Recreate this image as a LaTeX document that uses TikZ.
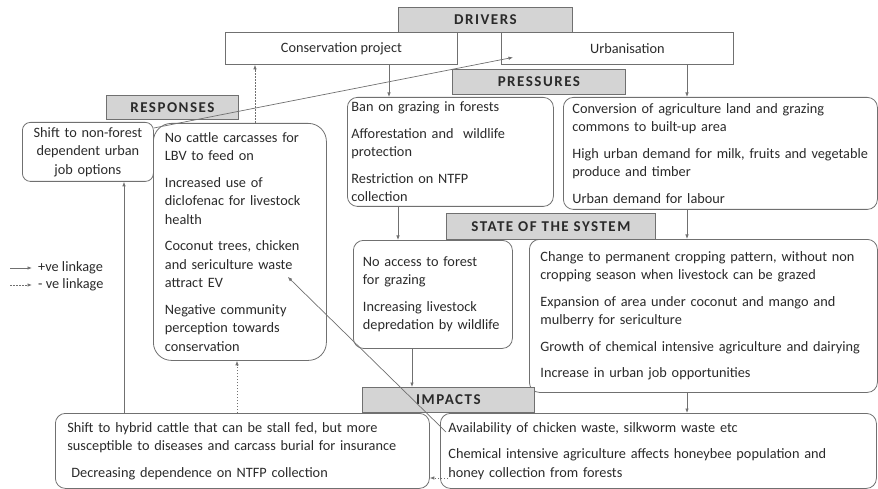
\documentclass[tikz,border=0pt]{standalone}
\usepackage{fontspec}
\setmainfont{Carlito}
\usetikzlibrary{arrows.meta}

\definecolor{linegrey}{HTML}{707070}
\definecolor{hdrgrey}{HTML}{D4D4D4}
\definecolor{txtgrey}{HTML}{2A2A2A}

\begin{document}
\begin{tikzpicture}[x=1pt,y=-1pt,
  every node/.style={text=txtgrey},
  hdr/.style={draw=linegrey,fill=hdrgrey,line width=0.8pt,font=\fontsize{15}{18}\selectfont\bfseries\addfontfeatures{LetterSpace=10},minimum height=25,inner sep=0pt,anchor=north west},
  dbox/.style={draw=linegrey,line width=0.8pt,font=\fontsize{14.3}{18.5}\selectfont,minimum height=32,inner sep=0pt,anchor=north west},
  rbox/.style={draw=linegrey,line width=0.8pt,rounded corners=10,align=left,font=\fontsize{14.3}{18.5}\selectfont,inner ysep=0pt,anchor=north west},
  poslink/.style={draw=linegrey,line width=0.7pt,-{Latex[length=4.5pt,width=3.5pt]}},
  neglink/.style={poslink,dash pattern=on 1.5pt off 1.5pt}]

\useasboundingbox (0,0) rectangle (878,489);

% drivers
\node[hdr,minimum width=174] (drivers) at (398,7) {DRIVERS};
\node[dbox,minimum width=232] (cons) at (225,32) {Conservation project};
\node[dbox,minimum width=232] (urban) at (501,32) {\hspace*{20pt}Urbanisation};

% pressures
\node[hdr,minimum width=173] (pressures) at (452,69) {PRESSURES};
\node[rbox,inner xsep=4,text width=198,minimum height=109] (ban) at (347,97)
  {Ban on grazing in forests\\[8pt]Afforestation and\ \ wildlife\\protection\\[8pt]Restriction on NTFP\\collection};
\node[rbox,inner xsep=9,text width=296,minimum height=112] (convert) at (563,97)
  {Conversion of agriculture land and grazing\\commons to built-up area\\[8pt]High urban demand for milk, fruits and vegetable\\produce and timber\\[8pt]Urban demand for labour};

% responses
\node[hdr,minimum width=132,minimum height=24] (responses) at (106,95) {RESPONSES};
\node[rbox,align=center,rounded corners=8,inner xsep=3,text width=125,minimum height=59] (urbanjob) at (22,122)
  {Shift to non-forest\\dependent urban\\job options};
\node[rbox,rounded corners=18,inner xsep=11.5,text width=150,minimum height=237] (carcass) at (153,123)
  {No cattle carcasses for\\LBV to feed on\\[8pt]Increased use of\\diclofenac for livestock\\health\\[8pt]Coconut trees, chicken\\and sericulture waste\\attract EV\\[8pt]Negative community\\perception towards\\conservation};

% state of the system
\node[hdr,minimum width=209,minimum height=26] (state) at (446,213) {STATE OF THE SYSTEM};
\node[rbox,inner xsep=9.5,text width=140,minimum height=108] (noaccess) at (353,240)
  {No access to forest\\for grazing\\[8pt]Increasing livestock\\depredation by wildlife};
\node[rbox,inner xsep=11,text width=326,minimum height=153] (cropping) at (529,239)
  {Change to permanent cropping pattern, without non\\cropping season when livestock can be grazed\\[8pt]Expansion of area under coconut and mango and\\mulberry for sericulture\\[8pt]Growth of chemical intensive agriculture and dairying\\[8pt]Increase in urban job opportunities};

% impacts
\node[hdr,minimum width=172] (impacts) at (362,387) {IMPACTS};
\node[rbox,inner xsep=12,text width=350,minimum height=75] (hybrid) at (55,413)
  {Shift to hybrid cattle that can be stall fed, but more\\susceptible to diseases and carcass burial for insurance\\[8pt]\hspace*{4pt}Decreasing dependence on NTFP collection};
\node[rbox,inner xsep=8,text width=420,minimum height=75] (waste) at (440,413)
  {Availability of chicken waste, silkworm waste etc\\[8pt]Chemical intensive agriculture affects honeybee population and\\honey collection from forests};

% legend
\coordinate (posfrom) at (10,268);
\coordinate (negfrom) at (10,285);
\node[anchor=west,inner xsep=6,font=\fontsize{14.3}{16}\selectfont] (poslabel) at (32,268) {+ve linkage};
\node[anchor=west,inner xsep=6,font=\fontsize{14.3}{16}\selectfont] (neglabel) at (32,285) {- ve linkage};
\draw[poslink] (posfrom) -- (poslabel.west);
\draw[neglink] (negfrom) -- (neglabel.west);

% links
\coordinate (colA) at (389,0);
\coordinate (colB) at (687,0);
\coordinate (colC) at (398,0);
\coordinate (colD) at (412,0);
\coordinate (colE) at (124,0);
\coordinate (colF) at (237,0);
\coordinate (colG) at (255,0);

\foreach \from/\to/\col in {cons/ban/colA, urban/convert/colB, ban/noaccess/colC, convert/cropping/colB, noaccess/impacts/colD, cropping/waste/colB}{
    \draw[poslink] (\from.south -| \col) -- (\to.north -| \col);
}

\draw[poslink] (hybrid.north -| colE) -- (urbanjob.south -| colE);
\draw[neglink] (hybrid.north -| colF) -- (carcass.south -| colF);
\draw[neglink] (carcass.north -| colG) -- (cons.south -| colG);
\draw[poslink] ([yshift=-6]urbanjob.north east) -- ([xshift=12,yshift=-9]urban.west);

\coordinate (availfrom) at (446,432);
\coordinate (honeyfrom) at (448,478);
\draw[poslink] (availfrom) -- ([xshift=-39,yshift=-35]carcass.east);
\draw[neglink] (honeyfrom) -- (hybrid.east |- honeyfrom);

\end{tikzpicture}
\end{document}
